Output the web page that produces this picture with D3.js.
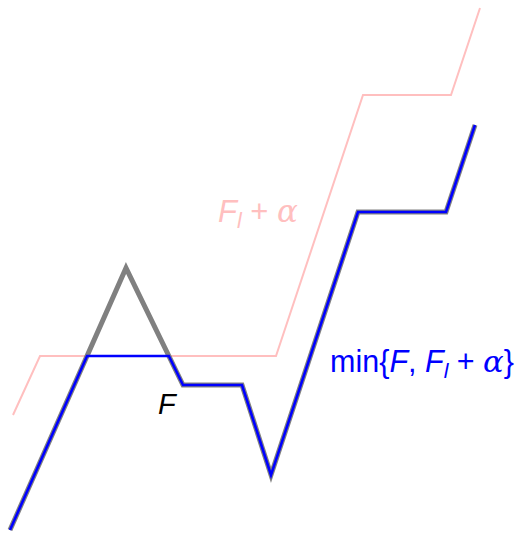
<!DOCTYPE html>
<html>
<head>
<meta charset="utf-8">
<script src="https://cdn.jsdelivr.net/npm/d3@7"></script>
<style>
  html, body { margin: 0; padding: 0; background: #fff; }
  svg { display: block; }
  .sans { font-family: "Liberation Sans", "DejaVu Sans", sans-serif; }
  .it { font-style: italic; }
  .greek { font-family: "DejaVu Serif", serif; font-style: italic; }
</style>
</head>
<body>
<svg id="chart" width="517" height="533"></svg>
<script>
// Piecewise-linear function F: breakpoints (x, value)
const fX = [0, 11.6, 17.3, 23.2, 26.1, 34.8, 43.6, 46.5];
const fY = [0, 26.2, 14.5, 14.5, 5.5, 31.8, 31.8, 40.5];

// Shifted lower function F_l + alpha
const gX = [0.3, 3.0, 26.6, 35.3, 44.1, 47.0];
const gY = [11.5, 17.4, 17.4, 43.5, 43.5, 52.2];

const labelF = "F";
const labelG = ["F", "l", " + ", "α"];
const labelMin = ["min{", "F", ", ", "F", "l", " + ", "α", "}"];

const W = 517, H = 533;
const x = d3.scaleLinear().domain([0, 47]).range([10, 480]);
const y = d3.scaleLinear().domain([0, 52.2]).range([530, 8]);

const svg = d3.select("#chart");

const fPts = fX.map((v, i) => [v, fY[i]]);
const gPts = gX.map((v, i) => [v, gY[i]]);

// linear interpolation of a piecewise-linear function; null outside its range
function evalPL(pts, xv) {
  if (xv < pts[0][0] - 1e-9 || xv > pts[pts.length - 1][0] + 1e-9) return null;
  for (let i = 0; i < pts.length - 1; i++) {
    const [x0, y0] = pts[i], [x1, y1] = pts[i + 1];
    if (xv >= x0 - 1e-9 && xv <= x1 + 1e-9) {
      return x1 === x0 ? y0 : y0 + (y1 - y0) * (xv - x0) / (x1 - x0);
    }
  }
  return null;
}

// pointwise minimum of F and F_l + alpha over the domain of F
function minFunction(a, b) {
  let xs = Array.from(new Set(a.map(p => p[0]).concat(b.map(p => p[0]))))
    .filter(v => v >= a[0][0] && v <= a[a.length - 1][0])
    .sort((p, q) => p - q);
  const val = v => {
    const fa = evalPL(a, v), fb = evalPL(b, v);
    return fb === null ? fa : Math.min(fa, fb);
  };
  const diff = v => {
    const fa = evalPL(a, v), fb = evalPL(b, v);
    return fb === null ? null : fa - fb;
  };
  const out = [];
  for (let i = 0; i < xs.length; i++) {
    out.push([xs[i], val(xs[i])]);
    if (i < xs.length - 1) {
      const d0 = diff(xs[i]), d1 = diff(xs[i + 1]);
      if (d0 !== null && d1 !== null && d0 * d1 < 0) {
        const t = d0 / (d0 - d1);
        const xc = xs[i] + t * (xs[i + 1] - xs[i]);
        out.push([xc, val(xc)]);
      }
    }
  }
  return out;
}

const minPts = minFunction(fPts, gPts);

const line = d3.line().x(d => x(d[0])).y(d => y(d[1]));

svg.append("path")
  .attr("d", line(gPts))
  .attr("fill", "none")
  .attr("stroke", "#ffbfbf")
  .attr("stroke-width", 2)
  .attr("stroke-linejoin", "miter");

svg.append("path")
  .attr("d", line(fPts))
  .attr("fill", "none")
  .attr("stroke", "#808080")
  .attr("stroke-width", 5)
  .attr("stroke-linejoin", "miter");

svg.append("path")
  .attr("d", line(minPts))
  .attr("fill", "none")
  .attr("stroke", "#0000ff")
  .attr("stroke-width", 2.6)
  .attr("stroke-linejoin", "miter");

// shrink a label's font so that it spans the given width
function fitWidth(sel, width) {
  const w = sel.node().getComputedTextLength();
  const k = width / w;
  sel.attr("font-size", 26 * k);
  sel.selectAll("tspan.sub").attr("font-size", 18 * k).attr("dy", 5 * k);
  sel.selectAll("tspan.back").attr("dy", -5 * k);
}

// label for F
svg.append("text")
  .attr("class", "sans it")
  .attr("x", 158).attr("y", 414)
  .attr("font-size", 29)
  .attr("fill", "#000")
  .text(labelF);

// label for F_l + alpha
const tg = svg.append("text")
  .attr("class", "sans")
  .attr("x", 218).attr("y", 222)
  .attr("font-size", 26)
  .attr("fill", "#ffbfbf");
tg.append("tspan").attr("class", "it").text(labelG[0]);
tg.append("tspan").attr("class", "it sub").attr("font-size", 18).attr("dy", 5).text(labelG[1]);
tg.append("tspan").attr("class", "back").attr("dy", -5).text(labelG[2]);
tg.append("tspan").attr("class", "greek").text(labelG[3]);
fitWidth(tg, 80);

// label for min{F, F_l + alpha}
const tm = svg.append("text")
  .attr("class", "sans")
  .attr("x", 330).attr("y", 372)
  .attr("font-size", 26)
  .attr("fill", "#0000ff");
tm.append("tspan").text(labelMin[0]);
tm.append("tspan").attr("class", "it").text(labelMin[1]);
tm.append("tspan").text(labelMin[2]);
tm.append("tspan").attr("class", "it").text(labelMin[3]);
tm.append("tspan").attr("class", "it sub").attr("font-size", 18).attr("dy", 5).text(labelMin[4]);
tm.append("tspan").attr("class", "back").attr("dy", -5).text(labelMin[5]);
tm.append("tspan").attr("class", "greek").text(labelMin[6]);
tm.append("tspan").text(labelMin[7]);
fitWidth(tm, 184);
</script>
</body>
</html>
